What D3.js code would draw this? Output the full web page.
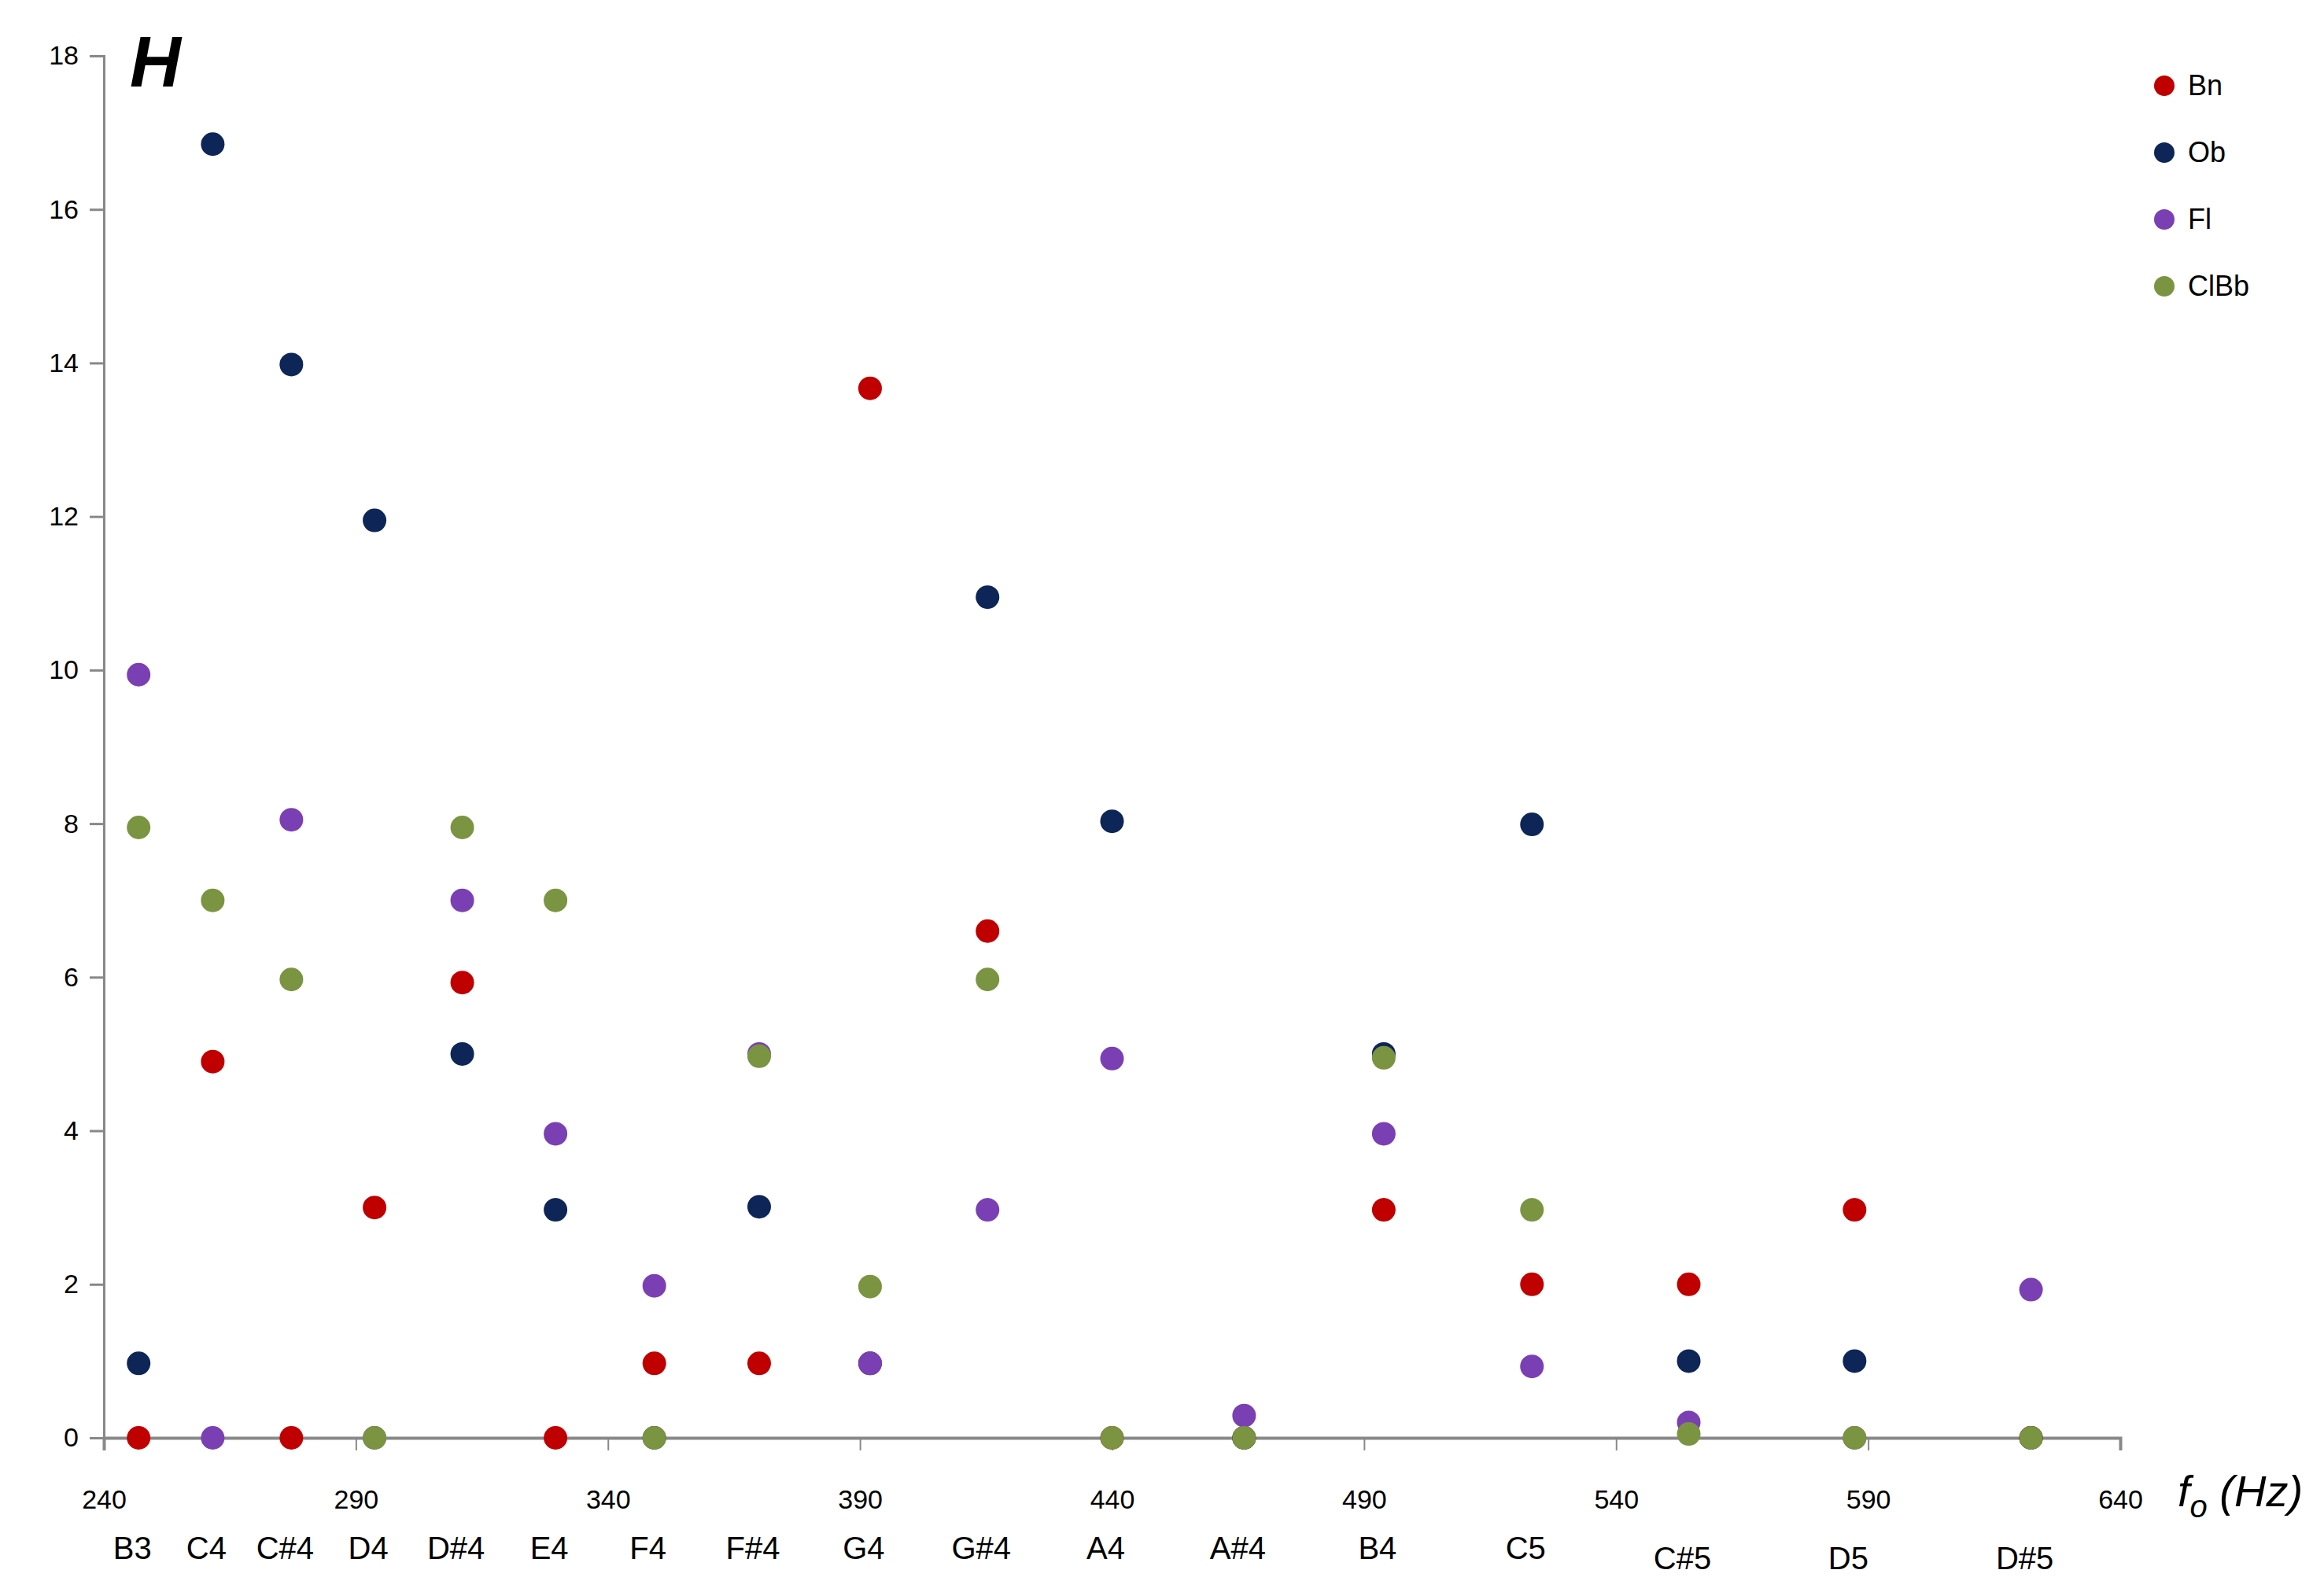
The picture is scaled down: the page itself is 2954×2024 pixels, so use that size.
<!DOCTYPE html>
<html>
<head>
<meta charset="utf-8">
<script src="https://cdn.jsdelivr.net/npm/d3@7"></script>
<style>
  body { margin: 0; background: #fff; }
  text { font-family: "Liberation Sans", Arial, sans-serif; }
</style>
</head>
<body>
<svg id="chart" width="2954" height="2024"></svg>
<script>
// note names and their fundamental frequencies (Hz)
const notes = ["B3", "C4", "C#4", "D4", "D#4", "E4", "F4", "F#4", "G4", "G#4", "A4", "A#4", "B4", "C5", "C#5", "D5", "D#5"];
const freqs = [246.9, 261.6, 277.2, 293.7, 311.1, 329.6, 349.2, 370.0, 392.0, 415.3, 440.0, 466.2, 493.9, 523.3, 554.4, 587.3, 622.3];
// note labels that sit a bit lower in the original
const lowNotes = ["C#5", "D5", "D#5"];

const seriesNames = ["Bn", "Ob", "Fl", "ClBb"];
const bn   = [0, 4.9, 0, 3, 5.93, 0, 0.97, 0.97, 13.67, 6.6, 0, 0, 2.97, 2, 2, 2.97, 0];
const ob   = [0.97, 16.85, 13.98, 11.95, 5, 2.97, 0, 3.01, 0.97, 10.95, 8.03, 0, 5, 7.99, 1, 1, 0];
const fl   = [9.94, 0, 8.05, 0, 7, 3.96, 1.98, 5, 0.97, 2.97, 4.94, 0.29, 3.96, 0.93, 0.2, 0, 1.93];
const clbb = [7.95, 7, 5.97, 0, 7.95, 7, 0, 4.97, 1.97, 5.97, 0, 0, 4.95, 2.97, 0.05, 0, 0];
const seriesValues = [bn, ob, fl, clbb];
const colors = ["#C00000", "#0E2557", "#7B3FB4", "#7A9441"];

const xTicks = [240, 290, 340, 390, 440, 490, 540, 590, 640];
const yTicks = [0, 2, 4, 6, 8, 10, 12, 14, 16, 18];

const svg = d3.select("#chart");
const x = d3.scaleLinear().domain([240, 640]).range([132, 2695]);
const y = d3.scaleLinear().domain([0, 18]).range([1828, 71]);

// y axis
const yAxis = svg.append("g")
  .attr("transform", `translate(${x(240)},0)`)
  .call(d3.axisLeft(y).tickValues(yTicks).tickSize(18).tickPadding(14));
yAxis.select(".domain").attr("stroke", "#888").attr("stroke-width", 3);
yAxis.selectAll(".tick line").attr("stroke", "#888").attr("stroke-width", 3);
yAxis.selectAll("text").attr("font-size", 34).attr("fill", "#000")
  .attr("font-family", "'DejaVu Sans', sans-serif");

// x axis
const xAxis = svg.append("g")
  .attr("transform", `translate(0,${y(0)})`)
  .call(d3.axisBottom(x).tickValues(xTicks).tickSizeOuter(0).tickSize(16).tickPadding(50));
xAxis.select(".domain").attr("stroke", "#888").attr("stroke-width", 4);
xAxis.selectAll(".tick line").attr("stroke", "#888").attr("stroke-width", 2);
xAxis.selectAll("text").attr("font-size", 34).attr("fill", "#000")
  .attr("font-family", "'DejaVu Sans', sans-serif");

// note labels
svg.append("g").selectAll("text")
  .data(notes)
  .enter()
  .append("text")
  .attr("x", (d, i) => x(freqs[i]) - 8)
  .attr("y", d => lowNotes.includes(d) ? 1995 : 1982)
  .attr("text-anchor", "middle")
  .attr("font-size", 40)
  .text(d => d);

// points
seriesValues.forEach((vals, s) => {
  svg.append("g").selectAll("circle")
    .data(vals)
    .enter()
    .append("circle")
    .attr("cx", (d, i) => x(freqs[i]))
    .attr("cy", d => y(d))
    .attr("r", 15)
    .attr("fill", colors[s]);
});

// panel letter
svg.append("text")
  .attr("x", 165).attr("y", 110)
  .attr("font-size", 90).attr("font-weight", "bold").attr("font-style", "italic")
  .text("H");

// axis title
const t = svg.append("text")
  .attr("x", 2768).attr("y", 1915)
  .attr("font-size", 56).attr("font-style", "italic");
t.append("tspan").text("f");
t.append("tspan").attr("font-size", 40).attr("dy", 14).text("o");
t.append("tspan").attr("dy", -14).text(" (Hz)");

// legend
const legend = svg.append("g").selectAll("g")
  .data(seriesNames)
  .enter()
  .append("g")
  .attr("transform", (d, i) => `translate(2751,${109 + i * 85})`);
legend.append("circle").attr("r", 13).attr("fill", (d, i) => colors[i]);
legend.append("text").attr("x", 30).attr("y", 12).attr("font-size", 36).text(d => d);
</script>
</body>
</html>
